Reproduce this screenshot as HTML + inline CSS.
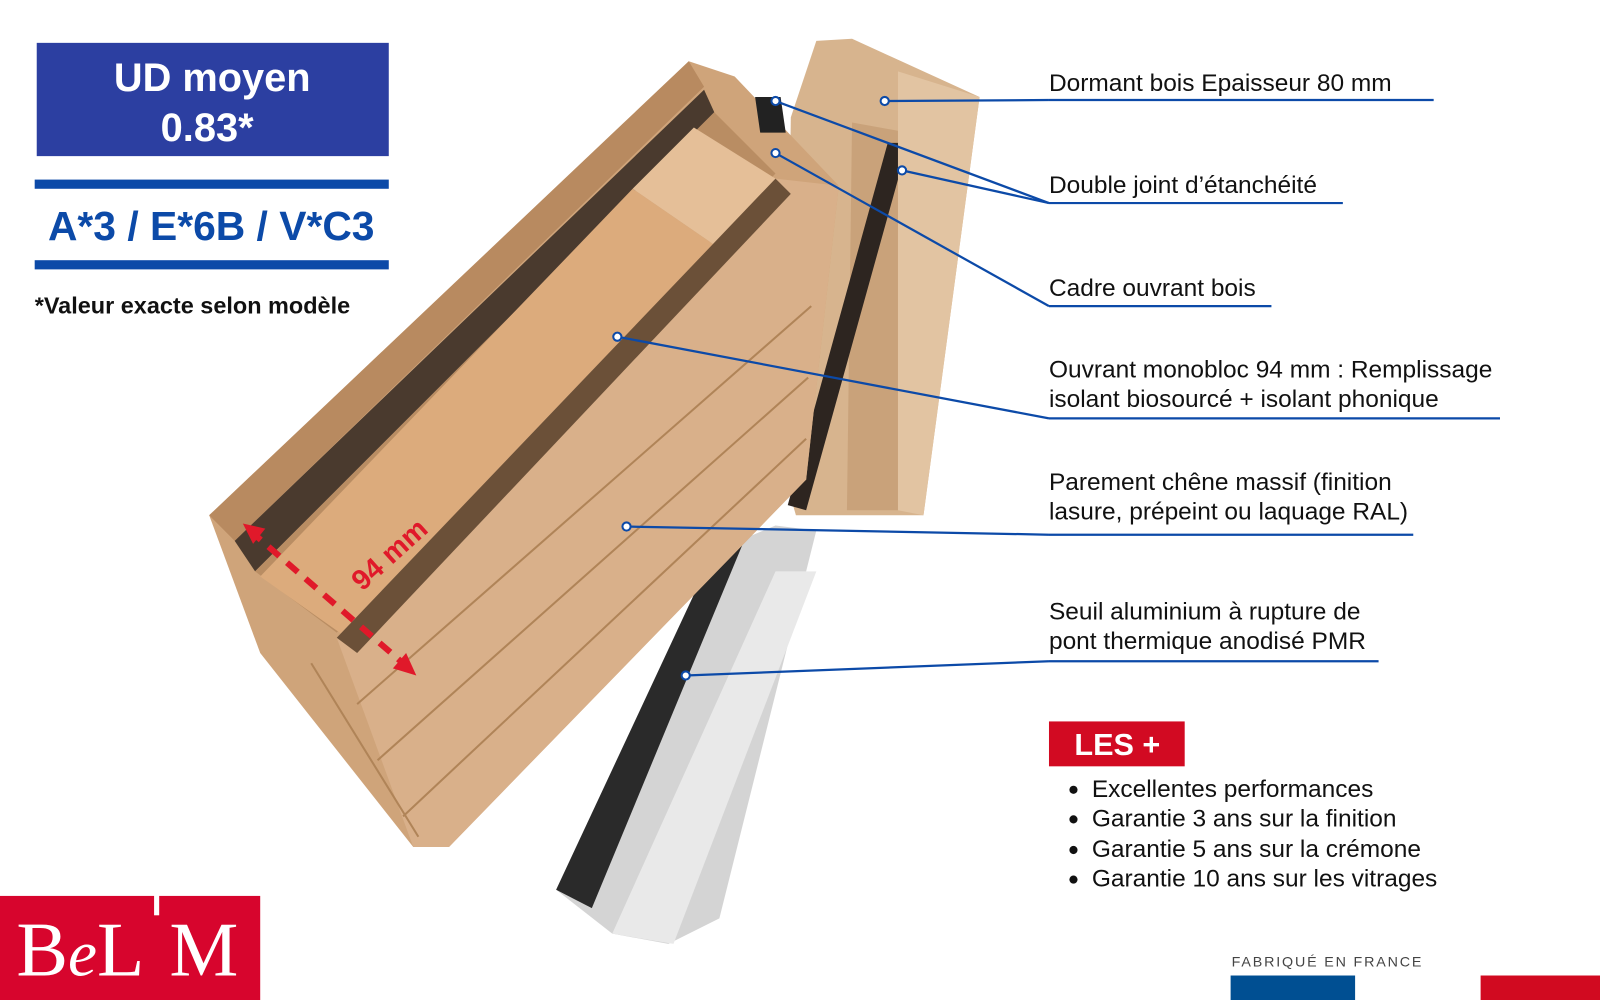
<!DOCTYPE html>
<html><head><meta charset="utf-8"><style>
html,body{margin:0;padding:0;background:#fff;width:1600px;height:1000px;overflow:hidden}
svg{display:block}
text{font-family:"Liberation Sans",sans-serif}
</style></head><body>
<svg width="1600" height="1000" viewBox="0 0 1568 980" xmlns="http://www.w3.org/2000/svg">
<!-- threshold -->
<polygon points="545,872 700,540 760,515 800,520 705,900 655,925 600,915" fill="#d4d4d4"/>
<polygon points="545,872 700,540 730,528 580,890" fill="#2a2a2a"/>
<polygon points="600,915 760,560 800,560 660,925" fill="#e9e9e9"/>
<!-- dormant frame -->
<polygon points="775,115 800,40 835,38 960,95 905,505 780,505 770,470" fill="#d7b48e"/>
<polygon points="835,120 890,130 880,500 830,500" fill="#c9a27a"/>
<polygon points="870,140 890,140 790,500 772,495" fill="#2d2520"/>
<polygon points="880,70 960,95 905,505 880,500" fill="#e2c4a2"/>
<!-- main slab -->
<polygon points="205,505 675,60 720,75 822,182 790,470 440,830 405,830 255,640" fill="#cfa47a"/>
<polygon points="205,505 675,60 690,85 230,530" fill="#b88a60"/>
<polygon points="230,530 690,88 700,110 250,560" fill="#4a3a2e"/>
<polygon points="250,560 700,110 760,170 330,620" fill="#b98d63"/>
<polygon points="255,565 620,185 700,240 340,625" fill="#dcab7c"/>
<polygon points="620,185 680,125 760,175 700,240" fill="#e5bf98"/>
<polygon points="330,625 760,175 822,182 790,470 440,830 405,830" fill="#d9b08a"/>
<polygon points="330,625 760,175 775,190 350,640" fill="#6b5038"/>
<g stroke="#b08458" stroke-width="2" fill="none">
<line x1="350" y1="690" x2="795" y2="300"/>
<line x1="370" y1="745" x2="792" y2="370"/>
<line x1="395" y1="800" x2="790" y2="430"/>
<line x1="305" y1="650" x2="410" y2="820"/>
</g>
<polygon points="740,95 765,95 770,130 745,130" fill="#222"/>
<!-- red arrow -->
<line x1="245" y1="520" x2="395" y2="650" stroke="#e0192a" stroke-width="6" stroke-dasharray="14,10"/>
<polygon points="408,662 385,655 398,640" fill="#e0192a"/>
<polygon points="238,513 260,518 248,533" fill="#e0192a"/>
<text x="0" y="0" transform="translate(355,580) rotate(-42)" font-size="28" font-weight="bold" fill="#e0192a">94 mm</text>

<!-- left info -->
<rect x="36" y="42" width="345" height="111" fill="#2c3fa1"/>
<text x="208" y="89" font-size="39" font-weight="bold" fill="#fff" text-anchor="middle">UD moyen</text>
<text x="203" y="138" font-size="39" font-weight="bold" fill="#fff" text-anchor="middle">0.83*</text>
<rect x="34" y="176" width="347" height="9" fill="#0c4aa8"/>
<text x="207" y="235" font-size="40" font-weight="bold" fill="#0c4aa8" text-anchor="middle">A*3 / E*6B / V*C3</text>
<rect x="34" y="255" width="347" height="9" fill="#0c4aa8"/>
<text x="34" y="307" font-size="23" font-weight="bold" fill="#111">*Valeur exacte selon modèle</text>

<!-- connectors -->
<g stroke="#0c4aa8" stroke-width="2.2" fill="none">
<line x1="867" y1="99" x2="1028" y2="98"/><line x1="1028" y1="98" x2="1405" y2="98"/>
<line x1="760" y1="99" x2="1028" y2="199"/><line x1="884" y1="167" x2="1028" y2="199"/><line x1="1028" y1="199" x2="1316" y2="199"/>
<line x1="760" y1="150" x2="1028" y2="300"/><line x1="1028" y1="300" x2="1246" y2="300"/>
<line x1="605" y1="330" x2="1028" y2="410"/><line x1="1028" y1="410" x2="1470" y2="410"/>
<line x1="614" y1="516" x2="1028" y2="524"/><line x1="1028" y1="524" x2="1385" y2="524"/>
<line x1="672" y1="662" x2="1028" y2="648"/><line x1="1028" y1="648" x2="1351" y2="648"/>
</g>
<g fill="#fff" stroke="#0c4aa8" stroke-width="2">
<circle cx="867" cy="99" r="4"/><circle cx="760" cy="99" r="4"/><circle cx="884" cy="167" r="4"/>
<circle cx="760" cy="150" r="4"/><circle cx="605" cy="330" r="4"/><circle cx="614" cy="516" r="4"/><circle cx="672" cy="662" r="4"/>
</g>
<g font-size="24" fill="#111">
<text x="1028" y="89">Dormant bois Epaisseur 80 mm</text>
<text x="1028" y="189">Double joint d’étanchéité</text>
<text x="1028" y="290">Cadre ouvrant bois</text>
<text x="1028" y="370">Ouvrant monobloc 94 mm : Remplissage</text>
<text x="1028" y="399">isolant biosourcé + isolant phonique</text>
<text x="1028" y="480">Parement chêne massif (finition</text>
<text x="1028" y="509">lasure, prépeint ou laquage RAL)</text>
<text x="1028" y="607">Seuil aluminium à rupture de</text>
<text x="1028" y="636">pont thermique anodisé PMR</text>
</g>
<rect x="1028" y="707" width="133" height="44" fill="#d20a22"/>
<text x="1095" y="740" font-size="30" font-weight="bold" fill="#fff" text-anchor="middle">LES +</text>
<g font-size="24" fill="#111">
<circle cx="1052" cy="774" r="4" fill="#111"/><text x="1070" y="781">Excellentes performances</text>
<circle cx="1052" cy="803" r="4" fill="#111"/><text x="1070" y="810">Garantie 3 ans sur la finition</text>
<circle cx="1052" cy="833" r="4" fill="#111"/><text x="1070" y="840">Garantie 5 ans sur la crémone</text>
<circle cx="1052" cy="862" r="4" fill="#111"/><text x="1070" y="869">Garantie 10 ans sur les vitrages</text>
</g>
<!-- logo -->
<rect x="0" y="878" width="255" height="102" fill="#d7052d"/>
<text x="16" y="956" style="font-family:'Liberation Serif',serif" font-size="76" fill="#fff">B<tspan font-style="italic" font-size="64">e</tspan>L</text>
<rect x="151" y="875" width="5" height="22" fill="#fff"/>
<text x="166" y="956" style="font-family:'Liberation Serif',serif" font-size="76" fill="#fff">M</text>
<!-- france -->
<text x="1207" y="947" font-size="14" fill="#444" letter-spacing="1.8">FABRIQUÉ EN FRANCE</text>
<rect x="1206" y="956" width="122" height="24" fill="#004f92"/>
<rect x="1451" y="956" width="117" height="24" fill="#d10a20"/>
</svg>
</body></html>
